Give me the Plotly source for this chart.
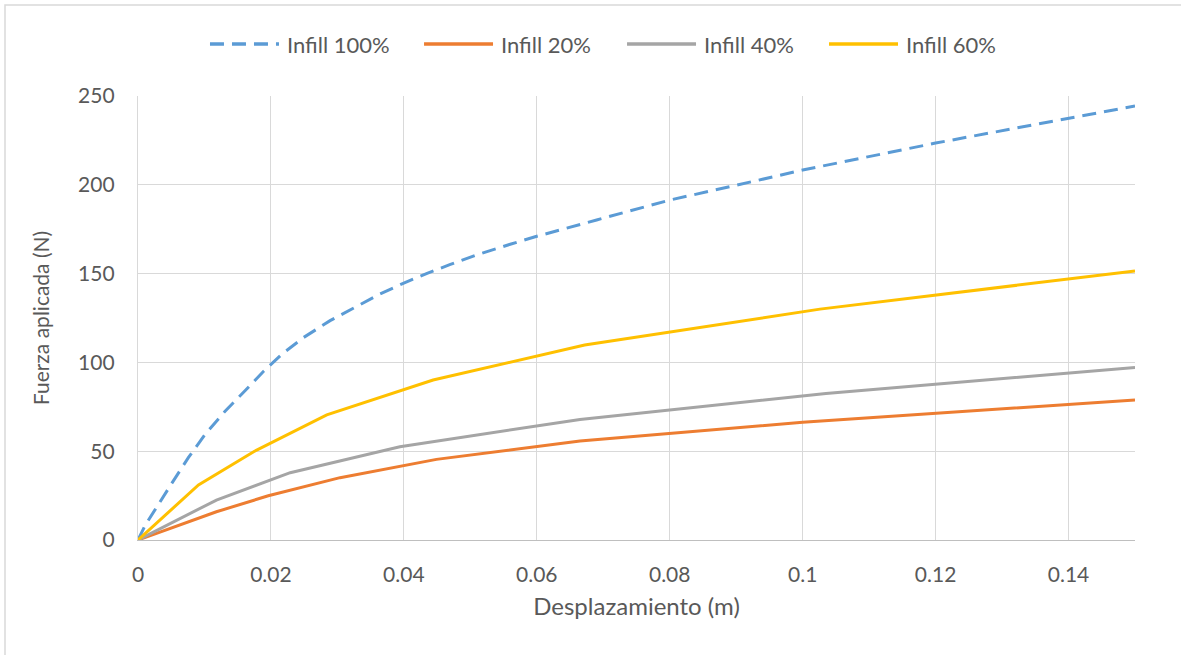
import plotly.graph_objects as go

# Displacement (m) and applied force (N) for each infill density
x_100 = [0, 0.0011, 0.0051, 0.0076, 0.0101, 0.0131, 0.0161, 0.0189, 0.0216, 0.0249,
         0.0289, 0.0329, 0.0364, 0.0399, 0.0434, 0.0469, 0.0509, 0.0560, 0.0600,
         0.0690, 0.0800, 0.0890, 0.1000, 0.1200, 0.1400, 0.1500]
y_100 = [0, 8.4, 32.0, 46.5, 59.5, 72.5, 84.0, 95.0, 104.5, 114.0,
         123.5, 131.4, 138.5, 144.5, 150.0, 155.0, 160.5, 166.5, 171.0,
         180.2, 191.4, 198.9, 208.3, 223.5, 237.5, 244.4]

x_20 = [0, 0.0118, 0.0196, 0.0304, 0.0449, 0.0665, 0.1000, 0.1500]
y_20 = [0, 15.9, 24.9, 35.1, 45.4, 55.7, 66.3, 78.8]

x_40 = [0, 0.0118, 0.0229, 0.0394, 0.0665, 0.1035, 0.1500]
y_40 = [0, 22.5, 37.9, 52.5, 67.9, 82.5, 97.2]

x_60 = [0, 0.0091, 0.0174, 0.0284, 0.0444, 0.0672, 0.1026, 0.1500]
y_60 = [0, 31.0, 49.7, 70.5, 90.1, 109.8, 130.0, 151.5]

series_names = ["Infill 100%", "Infill 20%", "Infill 40%", "Infill 60%"]
x_ticks = [0, 0.02, 0.04, 0.06, 0.08, 0.1, 0.12, 0.14]
x_tick_labels = ["0", "0.02", "0.04", "0.06", "0.08", "0.1", "0.12", "0.14"]
y_ticks = [0, 50, 100, 150, 200, 250]

FONT = "Lato, Calibri, sans-serif"
TEXT = "#595959"
GRID = "#d9d9d9"

styles = [("#5b9bd5", "14px,8px"), ("#ed7d31", "solid"),
          ("#a5a5a5", "solid"), ("#ffc000", "solid")]
data = [(x_100, y_100), (x_20, y_20), (x_40, y_40), (x_60, y_60)]

fig = go.Figure()
for name, (xs, ys), (color, dash) in zip(series_names, data, styles):
    fig.add_trace(go.Scatter(
        x=xs, y=ys, name=name, mode="lines", showlegend=False,
        line=dict(color=color, width=3, dash=dash),
    ))

# Legend row above the plot: a long line key followed by the series name
legend_left = [0.0722, 0.2869, 0.4905, 0.6931]   # paper x of each key's start
key_len = 0.0692
legend_y = 1.117
shapes = []
annotations = []
for name, (color, dash), x0 in zip(series_names, styles, legend_left):
    shapes.append(dict(
        type="line", xref="paper", yref="paper",
        x0=x0, x1=x0 + key_len, y0=legend_y, y1=legend_y,
        line=dict(color=color, width=3.5, dash=dash),
    ))
    annotations.append(dict(
        xref="paper", yref="paper", x=x0 + key_len + 0.006, y=legend_y,
        xanchor="left", yanchor="middle", showarrow=False, text=name,
        font=dict(family=FONT, size=22, color=TEXT),
    ))

# light frame around the chart area
shapes.append(dict(
    type="rect", xref="paper", yref="paper",
    x0=-0.1334, x1=1.06, y0=-0.28, y1=1.205,
    line=dict(color=GRID, width=1.5), fillcolor="rgba(0,0,0,0)", layer="below",
))

fig.update_layout(
    width=1181, height=655,
    margin=dict(l=138, r=46, t=96, b=115),
    paper_bgcolor="white", plot_bgcolor="white",
    font=dict(family=FONT, size=21, color=TEXT),
    showlegend=False,
    shapes=shapes,
    annotations=annotations,
)

fig.update_xaxes(
    range=[0, 0.15], tickvals=x_ticks, ticktext=x_tick_labels,
    showgrid=True, gridcolor=GRID, gridwidth=1.3,
    showline=True, linecolor="#bfbfbf", linewidth=1.3,
    ticks="outside", ticklen=16, tickcolor="rgba(0,0,0,0)",
    zeroline=False,
    title=dict(text="Desplazamiento (m)", font=dict(family=FONT, size=24, color=TEXT), standoff=12),
)
fig.update_yaxes(
    range=[0, 250], tickvals=y_ticks,
    showgrid=True, gridcolor=GRID, gridwidth=1.3,
    showline=True, linecolor=GRID, linewidth=1.3,
    ticks="outside", ticklen=18, tickcolor="rgba(0,0,0,0)",
    zeroline=False,
    title=dict(text="Fuerza aplicada (N)", font=dict(family=FONT, size=21, color=TEXT), standoff=22),
)

fig.write_html("out.html")
